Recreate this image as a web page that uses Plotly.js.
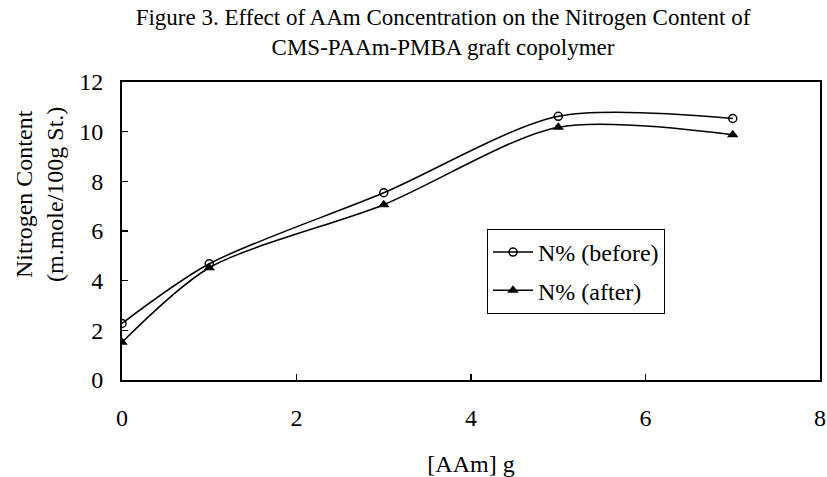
<!DOCTYPE html>
<html>
<head>
<meta charset="utf-8">
<script src="https://cdn.plot.ly/plotly-3.0.1.min.js"></script>
<style>html,body{margin:0;padding:0;background:#fff;}#chart{width:827px;height:477px;}</style>
</head>
<body>
<div id="chart"></div>
<script>
const aamConc = [0, 1, 3, 5, 7];
const nBefore = [2.28, 4.68, 7.54, 10.62, 10.53];
const nAfter = [1.52, 4.52, 7.06, 10.18, 9.88];
const seriesNames = ["N% (before)", "N% (after)"];
const xTicks = [0, 2, 4, 6, 8];
const yTicks = [0, 2, 4, 6, 8, 10, 12];

const FONT = "Liberation Serif, Times New Roman, serif";

const traces = [
  {
    x: aamConc, y: nBefore, name: seriesNames[0], legendgroup: "a",
    mode: "lines+markers", type: "scatter",
    line: {color: "#000", width: 1.5, shape: "spline", smoothing: 0.8},
    marker: {symbol: "circle-open", size: 8, color: "#000", line: {width: 1.5, color: "#000"}}
  },
  {
    x: aamConc, y: nAfter, name: seriesNames[1], legendgroup: "b",
    mode: "lines+markers", type: "scatter",
    line: {color: "#000", width: 1.5, shape: "spline", smoothing: 0.8},
    marker: {symbol: "triangle-up", size: 10, color: "#000"}
  }
];

const layout = {
  width: 827, height: 477,
  margin: {l: 122, r: 7, t: 82, b: 97},
  paper_bgcolor: "#fff", plot_bgcolor: "#fff",
  font: {family: FONT, size: 22, color: "#000"},
  title: {
    text: "Figure 3. Effect of AAm Concentration on the Nitrogen Content of<br>CMS-PAAm-PMBA graft copolymer",
    font: {family: FONT, size: 23, color: "#000"},
    x: 443/827, xanchor: "center", xref: "container",
    y: 1 - 25/477, yanchor: "middle", yref: "container"
  },
  xaxis: {
    range: [0, 8], tickvals: xTicks, ticktext: xTicks.map(String),
    ticks: "inside", ticklen: 6, tickwidth: 1.5, tickcolor: "#000",
    showline: true, linewidth: 2, linecolor: "#000", mirror: true,
    showgrid: false, zeroline: false,
    tickfont: {family: FONT, size: 24, color: "#000"},
    ticklabelstandoff: 15,
    title: {text: "[AAm] g", font: {family: FONT, size: 24, color: "#000"}, standoff: 28}
  },
  yaxis: {
    range: [0, 12], tickvals: yTicks, ticktext: yTicks.map(String),
    ticks: "inside", ticklen: 6, tickwidth: 1.5, tickcolor: "#000",
    showline: true, linewidth: 2, linecolor: "#000", mirror: true,
    showgrid: false, zeroline: false,
    tickfont: {family: FONT, size: 24, color: "#000"},
    ticklabelstandoff: 12
  },
  annotations: [{
    text: "Nitrogen Content<br>(m.mole/100g St.)",
    xref: "paper", yref: "paper", x: 0, y: (380-195)/298,
    xshift: -83, xanchor: "center", yanchor: "middle",
    textangle: -90, showarrow: false,
    font: {family: FONT, size: 24, color: "#000"}
  }],
  showlegend: true,
  legend: {
    x: (487-122)/698, y: (380-229)/298, xanchor: "left", yanchor: "top",
    bgcolor: "#fff", bordercolor: "#000", borderwidth: 1,
    font: {family: FONT, size: 24, color: "#000"},
    tracegroupgap: 4, itemwidth: 40
  }
};

Plotly.newPlot("chart", traces, layout, {displayModeBar: false, staticPlot: true});
</script>
</body>
</html>
